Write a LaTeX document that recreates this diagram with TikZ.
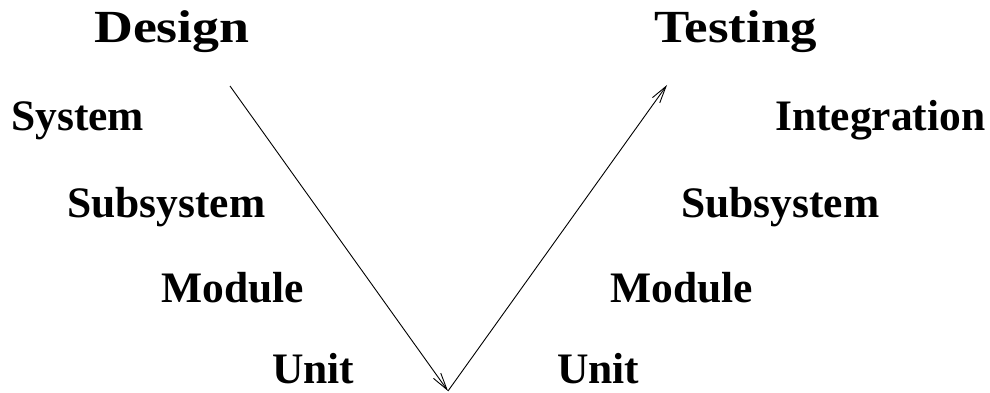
\documentclass[tikz,border=0pt]{standalone}
\usepackage{fontspec}
\setmainfont{Liberation Serif}
\usetikzlibrary{arrows.meta}
\tikzset{
  lbl/.style={inner sep=0pt, anchor=base west, font=\bfseries\fontsize{43.5}{48}\selectfont},
  head/.style={inner sep=0pt, anchor=base west, font=\bfseries\fontsize{46}{52}\selectfont},
  vline/.style={line width=0.9pt, -{Straight Barb[length=17pt,width=9pt,line width=0.9pt]}}
}
\begin{document}
\begin{tikzpicture}[x=1pt,y=-1pt]
\useasboundingbox (0,0) rectangle (990,393);
\node[head] (design) at (94,43) {\scalebox{1.17}[1]{Design}};
\node[head] (testing) at (654,43) {\scalebox{1.15}[1]{Testing}};
\node[lbl] (sys) at (11,131) {System};
\node[lbl] (subl) at (67,217) {Subsystem};
\node[lbl] (modl) at (161,302) {Module};
\node[lbl] (unitl) at (272,383) {Unit};
\node[lbl] (integ) at (775,131) {Integration};
\node[lbl] (subr) at (681,217) {Subsystem};
\node[lbl] (modr) at (610,302) {Module};
\node[lbl] (unitr) at (557,383) {Unit};
\coordinate (top1) at (230,86);
\coordinate (tip) at (448,391);
\coordinate (top2) at (667,85);
\draw[vline] (top1) -- (tip);
\draw[vline] (tip) -- (top2);
\end{tikzpicture}
\end{document}
